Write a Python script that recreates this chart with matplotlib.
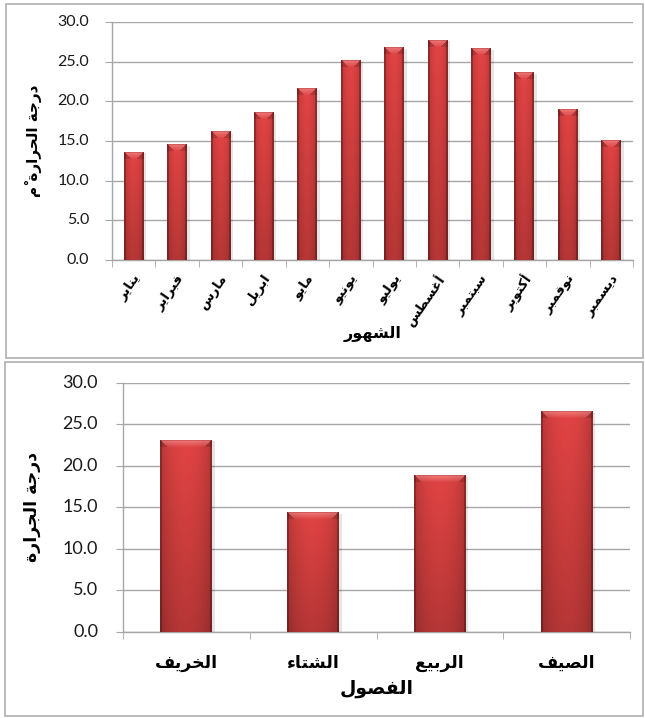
import numpy as np
import matplotlib
matplotlib.use("Agg")
import matplotlib.pyplot as plt
from matplotlib.patches import Rectangle
from matplotlib.colors import to_rgb

# ---------------------------------------------------------------- data
months = ["يناير", "فبراير", "مارس", "ابريل", "مايو", "يونيو",
          "يوليو", "أغسطس", "سبتمبر", "أكتوبر", "نوفمبر", "ديسمبر"]
month_temp = [13.6, 14.5, 16.2, 18.6, 21.6, 25.1,
              26.8, 27.7, 26.6, 23.6, 19.0, 15.1]

seasons = ["الخريف", "الشتاء", "الربيع", "الصيف"]
season_temp = [23.1, 14.4, 18.8, 26.5]

y_ticks = [0, 5, 10, 15, 20, 25, 30]

top_ylabel = "درجة الحرارة مْ"
top_xlabel = "الشهور"
bottom_ylabel = "درجة الجرارة"
bottom_xlabel = "الفصول"

# ---------------------------------------------------------------- arabic shaping
# (isolated-form code point, number of contextual forms)
_FORMS = {
    "\u0621": (0xFE80, 1), "\u0622": (0xFE81, 2), "\u0623": (0xFE83, 2),
    "\u0624": (0xFE85, 2), "\u0625": (0xFE87, 2), "\u0626": (0xFE89, 4),
    "\u0627": (0xFE8D, 2), "\u0628": (0xFE8F, 4), "\u0629": (0xFE93, 2),
    "\u062A": (0xFE95, 4), "\u062B": (0xFE99, 4), "\u062C": (0xFE9D, 4),
    "\u062D": (0xFEA1, 4), "\u062E": (0xFEA5, 4), "\u062F": (0xFEA9, 2),
    "\u0630": (0xFEAB, 2), "\u0631": (0xFEAD, 2), "\u0632": (0xFEAF, 2),
    "\u0633": (0xFEB1, 4), "\u0634": (0xFEB5, 4), "\u0635": (0xFEB9, 4),
    "\u0636": (0xFEBD, 4), "\u0637": (0xFEC1, 4), "\u0638": (0xFEC5, 4),
    "\u0639": (0xFEC9, 4), "\u063A": (0xFECD, 4), "\u0641": (0xFED1, 4),
    "\u0642": (0xFED5, 4), "\u0643": (0xFED9, 4), "\u0644": (0xFEDD, 4),
    "\u0645": (0xFEE1, 4), "\u0646": (0xFEE5, 4), "\u0647": (0xFEE9, 4),
    "\u0648": (0xFEED, 2), "\u0649": (0xFEEF, 2), "\u064A": (0xFEF1, 4),
}
_LAM_ALEF = {"\u0622": 0xFEF5, "\u0623": 0xFEF7, "\u0625": 0xFEF9, "\u0627": 0xFEFB}


def _is_mark(ch):
    return 0x064B <= ord(ch) <= 0x0652


def shape(text):
    """Return visually ordered Arabic text using presentation forms."""
    tokens = []  # [base_code, nforms, marks, joining]
    i = 0
    while i < len(text):
        ch = text[i]
        if _is_mark(ch) and tokens:
            tokens[-1][2] += ch
            i += 1
            continue
        if ch == "\u0644" and i + 1 < len(text) and text[i + 1] in _LAM_ALEF:
            tokens.append([_LAM_ALEF[text[i + 1]], 2, "", True])
            i += 2
            continue
        if ch in _FORMS:
            code, n = _FORMS[ch]
            tokens.append([code, n, "", n > 1])
        else:
            tokens.append([ch, 0, "", False])
        i += 1

    out = []
    for k, (code, n, marks, joining) in enumerate(tokens):
        if n == 0:
            out.append(code + marks)
            continue
        prev_ok = k > 0 and tokens[k - 1][1] == 4
        next_ok = n == 4 and k + 1 < len(tokens) and tokens[k + 1][3]
        if not joining:
            off = 0
        elif prev_ok and next_ok:
            off = 3
        elif prev_ok:
            off = 1
        elif next_ok:
            off = 2
        else:
            off = 0
        out.append(chr(code + off) + marks)
    return "".join(reversed(out))


# ---------------------------------------------------------------- styling
W, H = 645, 718
fig = plt.figure(figsize=(W / 100, H / 100), dpi=100)
fig.patch.set_facecolor("white")

AR_FONT = ["DejaVu Sans"]
NUM_FONT = ["Lato", "DejaVu Sans"]
GRID = "#a6a6a6"
BASE_RED = np.array(to_rgb("#d94141"))


def bar_image(wpx, hpx):
    """RGB array giving a bevelled, softly lit red bar."""
    nx = max(int(round(wpx)), 4)
    ny = max(int(round(hpx)), 4)
    u = (np.arange(nx) + 0.5) / nx
    v = (np.arange(ny) + 0.5) / ny  # 0 = top row
    horiz = 0.78 + 0.24 * np.sin(np.pi * u) ** 0.6
    vert = 1.02 - 0.20 * v
    img = BASE_RED[None, None, :] * horiz[None, :, None] * vert[:, None, None]
    # darker side edges
    edge = 2
    img[:, :edge] *= 0.78
    img[:, -edge:] *= 0.78
    # light bevel at the top
    bev = min(7, ny // 3)
    for r in range(bev):
        lo, hi = r + 1, nx - r - 1
        if hi > lo:
            t = 1 - r / bev
            img[r, lo:hi] = img[r, lo:hi] * (1 - 0.45 * t) + np.array([1.0, 0.72, 0.72]) * 0.45 * t
        img[r, :lo] *= 0.85
        img[r, hi:] *= 0.85
    img[0, :] = img[0, :] * 0.7 + np.array([0.55, 0.12, 0.12]) * 0.3
    return np.clip(img, 0, 1)


def draw_panel(rect_px, axes_px, cats, vals, width, cat_size, cat_rot,
               xlabel, xlabel_y, xlabel_size, ylabel, ylabel_x, ylabel_size,
               tick_size, tick_right, cat_off):
    # panel frame
    x0, y0, x1, y1 = rect_px
    fig.add_artist(Rectangle((x0 / W, 1 - y1 / H), (x1 - x0) / W, (y1 - y0) / H,
                             transform=fig.transFigure, fill=False,
                             edgecolor="#b0b0b0", lw=1.2))
    ax0, ay0, ax1, ay1 = axes_px
    ax = fig.add_axes([ax0 / W, 1 - ay1 / H, (ax1 - ax0) / W, (ay1 - ay0) / H])
    n = len(cats)
    x = np.arange(n)
    ax.set_xlim(-0.5, n - 0.5)
    ax.set_ylim(0, 30)
    ax.set_yticks(y_ticks)
    ax.set_yticklabels([])
    ax.yaxis.grid(True, color=GRID, lw=1.0)
    ax.set_axisbelow(True)
    for s in ("top", "right"):
        ax.spines[s].set_visible(False)
    for s in ("left", "bottom"):
        ax.spines[s].set_color(GRID)
        ax.spines[s].set_linewidth(1.0)
    ax.tick_params(axis="y", length=5, color=GRID)
    ax.set_xticks(x)
    ax.set_xticklabels([])
    ax.tick_params(axis="x", which="major", length=0)
    ax.set_xticks(np.arange(n + 1) - 0.5, minor=True)
    ax.tick_params(axis="x", which="minor", length=5, color=GRID)

    # value labels on the y axis, right-aligned at a fixed distance
    for t in y_ticks:
        ax.annotate(f"{t:.1f}", (0, t), xycoords=("axes fraction", "data"),
                    xytext=(-(ax0 - tick_right), 0), textcoords="offset pixels",
                    ha="right", va="center", family=NUM_FONT,
                    fontsize=tick_size, color="#1a1a1a", annotation_clip=False)

    bars = ax.bar(x, vals, width=width, color="none", edgecolor="none", zorder=3)
    for b in bars:
        bx, by = b.get_x(), b.get_y()
        bw, bh = b.get_width(), b.get_height()
        p0 = ax.transData.transform((bx, by))
        p1 = ax.transData.transform((bx + bw, by + bh))
        # soft drop shadow to the right
        sh = ax.transData.inverted().transform(p0 + np.array([2.5, 0]))
        ax.add_patch(Rectangle((sh[0], 0), bw, bh - 0.15,
                               facecolor="#000000", alpha=0.10, lw=0, zorder=2.5))
        img = bar_image(p1[0] - p0[0], p1[1] - p0[1])
        ax.imshow(img, extent=(bx, bx + bw, by, by + bh), aspect="auto",
                  interpolation="bilinear", zorder=3)
    ax.set_xlim(-0.5, n - 0.5)
    ax.set_ylim(0, 30)

    for xi, c in zip(x, cats):
        if cat_rot:
            ax.annotate(shape(c), (xi, 0), xycoords="data",
                        xytext=cat_off, textcoords="offset pixels",
                        rotation=cat_rot, rotation_mode="anchor",
                        ha="right", va="center", family=AR_FONT,
                        fontweight="bold", fontsize=cat_size)
        else:
            ax.annotate(shape(c), (xi, 0), xycoords="data",
                        xytext=cat_off, textcoords="offset pixels",
                        ha="center", va="center", family=AR_FONT,
                        fontweight="bold", fontsize=cat_size)

    cx = (ax0 + ax1) / 2
    fig.text(cx / W, 1 - xlabel_y / H, shape(xlabel), ha="center", va="center",
             family=AR_FONT, fontweight="bold", fontsize=xlabel_size)
    cy = (ay0 + ay1) / 2
    fig.text(ylabel_x / W, 1 - cy / H, shape(ylabel), ha="center", va="center",
             rotation=90, family=AR_FONT, fontweight="bold", fontsize=ylabel_size)
    return ax


# monthly chart
draw_panel(rect_px=(6, 4, 643, 358), axes_px=(112, 22, 633, 260),
           cats=months, vals=month_temp, width=0.46, cat_size=9.5, cat_rot=55,
           xlabel=top_xlabel, xlabel_y=334, xlabel_size=11.5,
           ylabel=top_ylabel, ylabel_x=33, ylabel_size=11,
           tick_size=11.5, tick_right=89, cat_off=(4, -16))

# seasonal chart
draw_panel(rect_px=(5, 362, 643, 716), axes_px=(123, 382.7, 630, 632),
           cats=seasons, vals=season_temp, width=0.41, cat_size=12.5, cat_rot=0,
           xlabel=bottom_xlabel, xlabel_y=689, xlabel_size=13.5,
           ylabel=bottom_ylabel, ylabel_x=32, ylabel_size=12.5,
           tick_size=13, tick_right=98, cat_off=(0, -31))

fig.savefig("out.png", dpi=100, facecolor="white")
